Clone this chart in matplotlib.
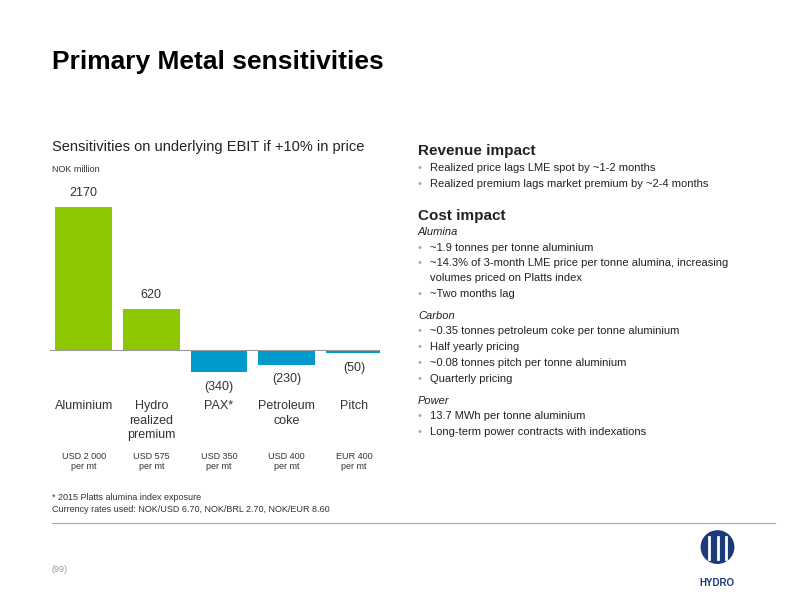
import matplotlib
matplotlib.use("Agg")
import matplotlib.pyplot as plt
from matplotlib.patches import Circle

categories = ["Aluminium", "Hydro\nrealized\npremium", "PAX*", "Petroleum\ncoke", "Pitch"]
values = [2170, 620, -340, -230, -50]
value_labels = ["2170", "620", "(340)", "(230)", "(50)"]
units = ["USD 2 000\nper mt", "USD 575\nper mt", "USD 350\nper mt", "USD 400\nper mt", "EUR 400\nper mt"]
colors = ["#8dc700", "#8dc700", "#009bcc", "#009bcc", "#009bcc"]

plt.rcParams['font.family'] = ['Liberation Sans', 'DejaVu Sans']
fig = plt.figure(figsize=(8, 6), dpi=100)
W, H = 800, 600
def fx(x): return x / W
def fy(y): return 1 - y / H

ax = fig.add_axes([fx(50), fy(400), fx(330), 210 / H])
x = list(range(len(values)))
ax.bar(x, values, width=0.84, color=colors)
ax.axhline(0, color="#999999", lw=0.8)
ax.set_xlim(-0.5, 4.385)
ax.set_ylim(-759, 2428)
ax.axis("off")
for i, (v, l) in enumerate(zip(values, value_labels)):
    if v > 0:
        ax.text(i, v + 120, l, ha="center", va="bottom", fontsize=9, color="#333333")
    else:
        ax.annotate(l, (i, v), xytext=(0, -6), textcoords="offset points",
                    ha="center", va="top", fontsize=9, color="#333333")
for i, (c, u) in enumerate(zip(categories, units)):
    cx = 84 + i * 67.5
    fig.text(fx(cx), fy(400), c, ha="center", va="top", fontsize=9, color="#333333", linespacing=1.3)
    fig.text(fx(cx), fy(452), u, ha="center", va="top", fontsize=6.5, color="#333333")

fig.text(fx(52), fy(62), "Primary Metal sensitivities", fontsize=19, weight="bold", va="center", color="black")
fig.text(fx(52), fy(147), "Sensitivities on underlying EBIT if +10% in price", fontsize=10.5, va="center", color="#222222")
fig.text(fx(52), fy(170), "NOK million", fontsize=6.5, va="center", color="#333333")
fig.text(fx(52), fy(497), "* 2015 Platts alumina index exposure", fontsize=6.5, va="center", color="#333333")
fig.text(fx(52), fy(510), "Currency rates used: NOK/USD 6.70, NOK/BRL 2.70, NOK/EUR 8.60", fontsize=6.5, va="center", color="#333333")
fig.add_artist(plt.Line2D([fx(52), fx(775)], [fy(523), fy(523)], color="#aaaaaa", lw=0.8))
fig.text(fx(52), fy(570), "(99)", fontsize=6.5, va="center", color="#999999")

# right panel
items = [
    (151, "Revenue impact", "h"),
    (168, "Realized price lags LME spot by ~1-2 months", "b"),
    (184, "Realized premium lags market premium by ~2-4 months", "b"),
    (216, "Cost impact", "h"),
    (232, "Alumina", "i"),
    (248, "~1.9 tonnes per tonne aluminium", "b"),
    (263, "~14.3% of 3-month LME price per tonne alumina, increasing", "b"),
    (278, "volumes priced on Platts index", "c"),
    (294, "~Two months lag", "b"),
    (316, "Carbon", "i"),
    (331, "~0.35 tonnes petroleum coke per tonne aluminium", "b"),
    (347, "Half yearly pricing", "b"),
    (363, "~0.08 tonnes pitch per tonne aluminium", "b"),
    (379, "Quarterly pricing", "b"),
    (401, "Power", "i"),
    (416, "13.7 MWh per tonne aluminium", "b"),
    (432, "Long-term power contracts with indexations", "b"),
]
for y, t, k in items:
    if k == "h":
        fig.text(fx(418), fy(y), t, fontsize=11, weight="bold", va="center", color="#222222")
    elif k == "i":
        fig.text(fx(418), fy(y), t, fontsize=8, style="italic", va="center", color="#222222")
    elif k == "b":
        fig.text(fx(418), fy(y), "•", fontsize=8, va="center", color="#aaaaaa")
        fig.text(fx(430), fy(y), t, fontsize=8, va="center", color="#222222")
    else:
        fig.text(fx(430), fy(y), t, fontsize=8, va="center", color="#222222")

# logo
lax = fig.add_axes([fx(695), fy(575), fx(45), 45 / H])
lax.set_xlim(0, 1); lax.set_ylim(0, 1); lax.axis("off")
lax.add_patch(Circle((0.5, 0.62), 0.36, color="#1a3a7a"))
for dx in (-0.18, 0, 0.18):
    lax.plot([0.5 + dx, 0.5 + dx], [0.36, 0.85], color="white", lw=2)
fig.text(fx(717), fy(583), "HYDRO", fontsize=7, weight="bold", ha="center", va="center", color="#1a3a7a")

fig.savefig("out.png", dpi=100)
